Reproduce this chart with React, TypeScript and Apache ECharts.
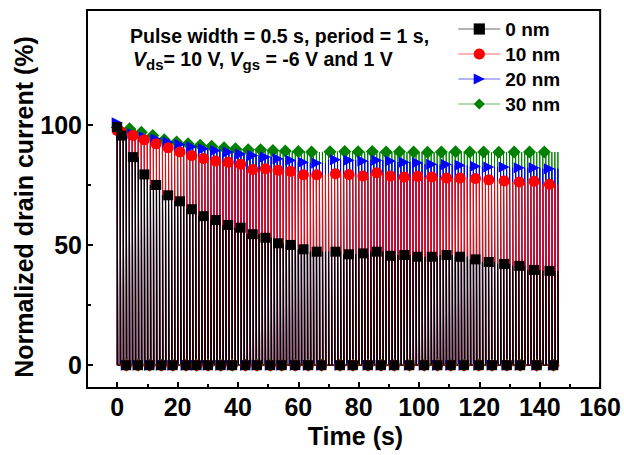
import React, { useEffect, useRef } from "react";
import * as echarts from "echarts";

// ---------- data ----------
const seriesNames = ["0 nm", "10 nm", "20 nm", "30 nm"];
const seriesColors = ["#000000", "#ff0000", "#0000ff", "#008000"];

// time (s) of the upper markers for 0, 10 and 20 nm
const markerTimes = [
  0, 1.4, 5.2, 9.0, 12.9, 16.9, 20.8, 24.7, 28.6, 32.6, 36.8, 40.9, 44.9, 49.1,
  53.3, 57.5, 61.7, 66.1, 72.3, 76.8, 81.4, 86.0, 90.5, 95.1, 99.5, 104.2,
  109.1, 113.6, 118.7, 123.1, 128.2, 133.2, 138.1, 143.2,
];
// normalized drain current (%) at the pulse tops
const peak0nm = [
  99.2, 95.7, 86.7, 79.5, 75.1, 70.8, 68.3, 65.0, 62.1, 60.5, 58.4, 57.3, 54.6,
  53.1, 50.8, 50.1, 48.3, 47.3, 47.3, 46.2, 46.6, 47.3, 45.6, 45.9, 45.2, 45.2,
  45.9, 45.2, 44.1, 43.0, 42.2, 41.4, 39.7, 39.3,
];
const peak10nm = [
  97.8, 97.1, 95.7, 93.9, 92.3, 90.6, 88.8, 87.4, 86.1, 85.1, 84.6, 83.7, 81.5,
  81.9, 81.2, 80.8, 79.4, 79.4, 79.8, 79.5, 78.8, 80.2, 78.8, 78.4, 78.7, 78.4,
  78.0, 78.0, 77.8, 77.3, 76.8, 76.3, 76.6, 75.4,
];
const peak20nm = [
  101.0, 97.0, 96.4, 95.2, 94.2, 93.0, 92.0, 91.0, 90.2, 89.5, 88.8, 88.0, 87.4,
  86.8, 86.0, 85.4, 84.6, 84.2, 85.6, 85.4, 85.1, 85.4, 85.1, 84.6, 84.4, 83.7,
  83.6, 83.3, 82.9, 82.6, 82.6, 82.3, 82.3, 81.9,
];
// 30 nm markers sit at their own times
const markerTimes30nm = [
  0, 4.1, 8.0, 11.8, 15.6, 19.7, 23.5, 27.5, 31.3, 35.4, 39.2, 43.4, 47.5, 51.6,
  55.7, 60.0, 64.4, 70.5, 75.4, 79.8, 84.5, 89.1, 93.5, 98.2, 102.8, 107.4,
  112.1, 116.8, 121.4, 126.4, 131.5, 136.6, 141.5,
];
const peak30nm = [
  99.0, 98.5, 97.1, 95.7, 93.9, 93.0, 92.3, 91.6, 91.2, 90.6, 90.2, 89.8, 89.8,
  89.5, 89.3, 89.0, 88.8, 88.9, 89.0, 88.9, 89.0, 88.8, 88.9, 88.8, 88.7, 88.8,
  88.9, 88.8, 88.8, 88.7, 88.8, 88.8, 88.8,
];
// lower markers (off state, 0 %)
const offTimes = [
  3.0, 6.9, 10.7, 14.6, 18.4, 22.8, 26.3, 30.1, 34.3, 38.1, 42.5, 46.3, 50.7,
  54.5, 59.0, 63.3, 67.7, 73.8, 78.1, 83.1, 87.4, 91.8, 96.8, 101.7, 106.1,
  110.5, 114.9, 119.8, 124.2, 129.1, 133.5, 139.0, 144.5,
];
const offValue = 0;

// pulse train as traced in the figure: one pulse per second, the on and off
// samples of a pulse lie very close together on the time axis
const pulsePeriod = 1;
const traceOnDuration = 0.2;
const pulseCount = 147;

const xTicks = [0, 20, 40, 60, 80, 100, 120, 140, 160];
const xMinorTicks = [10, 30, 50, 70, 90, 110, 130, 150];
const yTicks = [0, 50, 100];
const yMinorTicks = [25, 75];

const FONT = '"Liberation Sans", Arial, Helvetica, sans-serif';

function nearestPeak(times: number[], vals: number[], t: number) {
  let best = 0;
  for (let i = 1; i < times.length; i++) {
    if (Math.abs(times[i] - t) < Math.abs(times[best] - t)) best = i;
  }
  return vals[best];
}

function pulseTrain(times: number[], vals: number[]) {
  const out: number[][] = [];
  for (let k = 0; k < pulseCount; k++) {
    const t = k * pulsePeriod;
    const p = nearestPeak(times, vals, t);
    out.push([t, offValue], [t, p], [t + traceOnDuration, p], [t + traceOnDuration, offValue]);
  }
  return out;
}

export default function App() {
  const ref = useRef<HTMLDivElement>(null);

  useEffect(() => {
    if (!ref.current) return;
    const chart = echarts.init(ref.current, null, { renderer: "svg" });

    const groups = [
      { name: seriesNames[3], color: seriesColors[3], times: markerTimes30nm, vals: peak30nm, symbol: "diamond", size: [13, 13], rotate: 0 },
      { name: seriesNames[2], color: seriesColors[2], times: markerTimes, vals: peak20nm, symbol: "triangle", size: [11, 11], rotate: -90 },
      { name: seriesNames[1], color: seriesColors[1], times: markerTimes, vals: peak10nm, symbol: "circle", size: [11, 11], rotate: 0 },
      { name: seriesNames[0], color: seriesColors[0], times: markerTimes, vals: peak0nm, symbol: "rect", size: [10, 10], rotate: 0 },
    ];

    const lineSeries = groups.map((g) => ({
      name: g.name,
      type: "line",
      z: 2,
      data: pulseTrain(g.times, g.vals),
      showSymbol: false,
      symbol: g.symbol,
      symbolRotate: g.rotate,
      itemStyle: { color: g.color },
      lineStyle: { color: g.color, width: 1 },
      silent: true,
    }));
    const topMarkers = groups.map((g) => ({
      name: g.name + " top",
      type: "scatter",
      z: 5,
      data: g.times.map((t, i) => [t, g.vals[i]]),
      symbol: g.symbol,
      symbolSize: g.size,
      symbolRotate: g.rotate,
      itemStyle: { color: g.color, opacity: 1 },
      silent: true,
    }));
    const offMarkers = groups.map((g) => ({
      name: g.name + " off",
      type: "scatter",
      z: 5,
      data: offTimes.map((t) => [t, offValue]),
      symbol: g.symbol,
      symbolSize: g.size,
      symbolRotate: g.rotate,
      itemStyle: { color: g.color, opacity: 1 },
      silent: true,
    }));

    const labelStyle = { fontSize: 25, fontWeight: "bold", color: "#000", fontFamily: FONT };

    chart.setOption({
      animation: false,
      grid: { left: 87, right: 20, top: 10, bottom: 67, show: true, borderColor: "#000", borderWidth: 2 },
      legend: {
        data: seriesNames,
        orient: "vertical",
        left: 458,
        top: 19.5,
        padding: 0,
        itemGap: 6,
        itemWidth: 42,
        itemHeight: 14,
        lineStyle: { width: 0.6 },
        textStyle: { fontSize: 19, fontWeight: "bold", color: "#000", fontFamily: FONT, lineHeight: 19 },
        selectedMode: false,
      },
      xAxis: [
        {
          type: "value", min: -10, max: 160, position: "bottom",
          axisLine: { show: true, onZero: false, lineStyle: { color: "#000", width: 2 } },
          axisTick: { inside: true, length: 6, lineStyle: { color: "#000", width: 2 }, customValues: xTicks },
          axisLabel: { ...labelStyle, margin: 6, customValues: xTicks },
          splitLine: { show: false },
        },
        {
          type: "value", min: -10, max: 160, position: "bottom",
          axisLine: { show: false, onZero: false },
          axisTick: { inside: true, length: 4, lineStyle: { color: "#000", width: 2 }, customValues: xMinorTicks },
          axisLabel: { show: false },
          splitLine: { show: false },
        },
      ],
      yAxis: [
        {
          type: "value", min: -9.5, max: 148, position: "left",
          axisLine: { show: true, onZero: false, lineStyle: { color: "#000", width: 2 } },
          axisTick: { inside: true, length: 6, lineStyle: { color: "#000", width: 2 }, customValues: yTicks },
          axisLabel: { ...labelStyle, margin: 5, customValues: yTicks },
          splitLine: { show: false },
        },
        {
          type: "value", min: -9.5, max: 148, position: "left",
          axisLine: { show: false, onZero: false },
          axisTick: { inside: true, length: 4, lineStyle: { color: "#000", width: 2 }, customValues: yMinorTicks },
          axisLabel: { show: false },
          splitLine: { show: false },
        },
      ],
      graphic: [
        {
          type: "text", x: 130, y: 35.5,
          style: { text: "Pulse width = 0.5 s, period = 1 s,", fontSize: 19.5, fontWeight: "bold", fontFamily: FONT, fill: "#000", align: "left", verticalAlign: "middle" },
        },
        {
          type: "text", x: 133, y: 59,
          style: {
            text: "{i|V}{s|ds}{n|= 10 V, }{i|V}{s|gs}{n| = -6 V and 1 V}",
            fill: "#000", align: "left", verticalAlign: "middle",
            rich: {
              n: { fontSize: 19.5, fontWeight: "bold", fontFamily: FONT, lineHeight: 26 },
              i: { fontSize: 19.5, fontWeight: "bold", fontStyle: "italic", fontFamily: FONT, lineHeight: 26 },
              s: { fontSize: 15, fontWeight: "bold", fontFamily: FONT, verticalAlign: "bottom" },
            },
          },
        },
        {
          type: "text", x: 355.5, y: 436,
          style: { text: "Time (s)", fontSize: 25, fontWeight: "bold", fontFamily: FONT, fill: "#000", align: "center", verticalAlign: "middle" },
        },
        {
          type: "text", x: 24, y: 207, rotation: Math.PI / 2,
          style: { text: "Normalized drain current (%)", fontSize: 25, fontWeight: "bold", fontFamily: FONT, fill: "#000", align: "center", verticalAlign: "middle" },
        },
      ],
      series: [...lineSeries, ...topMarkers, ...offMarkers],
    });

    return () => chart.dispose();
  }, []);

  return <div ref={ref} style={{ width: 624, height: 455, position: "absolute", left: 0, top: 0 }} />;
}
